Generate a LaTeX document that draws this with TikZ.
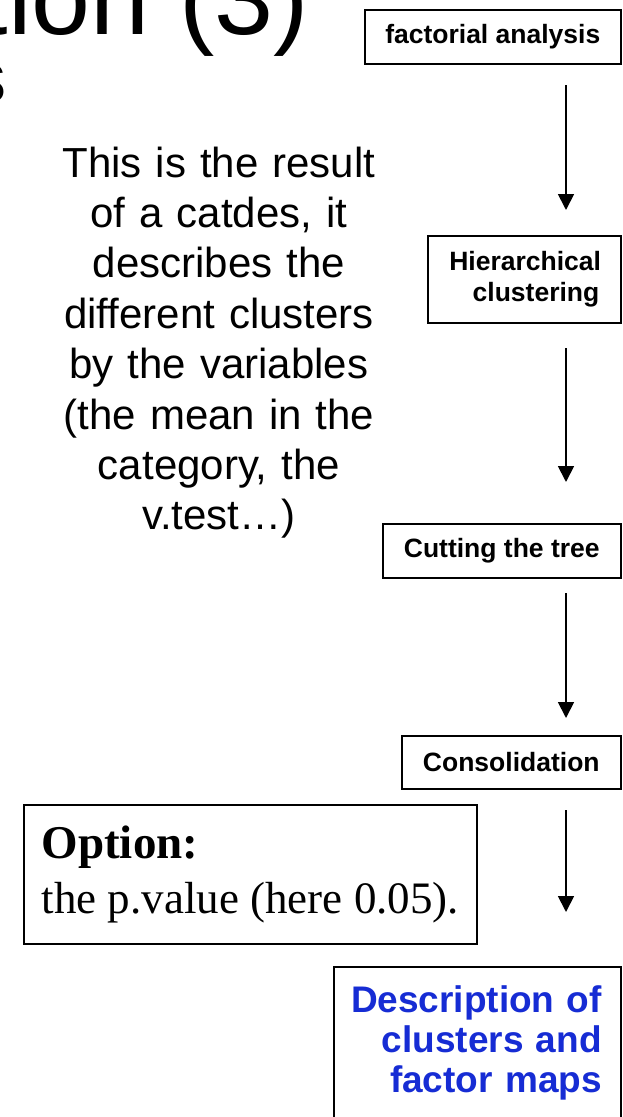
\documentclass[tikz,border=0pt]{standalone}
\usepackage{fontspec}
\setmainfont{Liberation Sans}
\newfontfamily\tnr{Liberation Serif}
\usetikzlibrary{arrows.meta}
\definecolor{descblue}{RGB}{22,44,212}
\begin{document}
\begin{tikzpicture}[x=1pt,y=-1pt,
  box/.style={draw, line width=1.6pt, inner sep=0pt, font=\fontsize{26.5}{31}\selectfont\bfseries},
  arr/.style={line width=1.8pt, -{Triangle[width=16pt,length=16pt]}},
  bodytext/.style={inner sep=0pt, text width=340pt, align=center, font=\fontsize{42}{50.4}\selectfont}]
\useasboundingbox (0,0) rectangle (623,1117);
\clip (0,0) rectangle (623,1117);
% title fragments
\node[anchor=base east, inner sep=0pt, font=\fontsize{106}{110}\selectfont] (title) at (309,34) {tion (3)};
\node[anchor=base east, inner sep=0pt, font=\fontsize{72}{80}\selectfont] (sub) at (7,102) {s};
% body text
\node[bodytext, anchor=base] (body) at (219,177) {This is the result\\ of a catdes, it\\ describes the\\ different clusters\\ by the variables\\ (the mean in the\\ category, the\\ v.test…)};
% flow boxes
\node[box, anchor=north west, minimum width=256pt, minimum height=54pt] (fa) at (364,9) {factorial analysis};
\node[box, anchor=north west, minimum width=193pt, minimum height=87pt, text width=150pt, align=right, inner xsep=21.5pt] (hc) at (427,235) {Hierarchical\\ clustering};
\node[box, anchor=north west, minimum width=238pt, minimum height=54pt] (ct) at (382,523) {Cutting the tree};
\node[box, anchor=north west, minimum width=219pt, minimum height=53pt] (cons) at (401,735) {Consolidation};
% option box
\node[draw, line width=1.6pt, inner sep=0pt, anchor=north west, minimum width=453pt, minimum height=139pt, align=left, font=\tnr\fontsize{45}{55}\selectfont] (opt) at (23,804) {{\bfseries\fontsize{47}{55}\selectfont Option:}\\ the p.value (here 0.05).};
% description box
\node[draw, line width=1.6pt, inner sep=0pt, anchor=north west, minimum width=287pt, minimum height=170pt] (descbox) at (333,966) {};
\node[anchor=base east, inner sep=0pt, text width=280pt, align=right, font=\fontsize{37}{40}\selectfont\bfseries, text=descblue] (desc) at (602,1012) {Description of\\ clusters and\\ factor maps};
% arrows
\coordinate (a1s) at (566,85);  \coordinate (a1e) at (566,210);
\coordinate (a2s) at (566,348); \coordinate (a2e) at (566,482);
\coordinate (a3s) at (566,593); \coordinate (a3e) at (566,718);
\coordinate (a4s) at (566,810); \coordinate (a4e) at (566,912);
\draw[arr] (a1s) -- (a1e);
\draw[arr] (a2s) -- (a2e);
\draw[arr] (a3s) -- (a3e);
\draw[arr] (a4s) -- (a4e);
\end{tikzpicture}
\end{document}
